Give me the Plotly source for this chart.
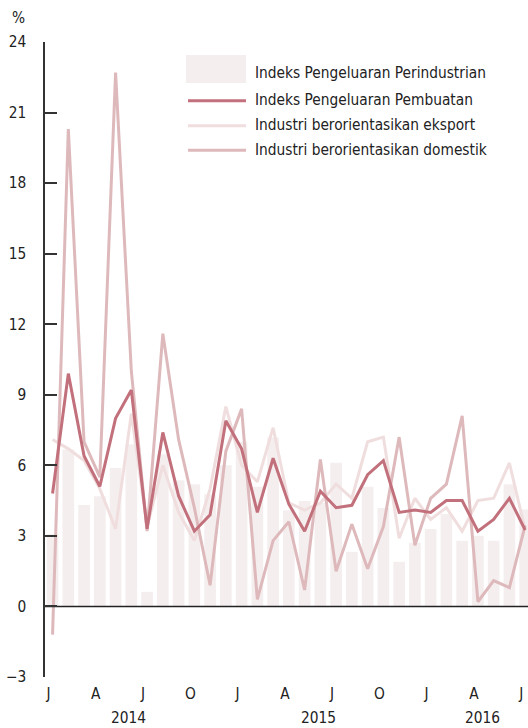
import plotly.graph_objects as go

# ---------------- data ----------------
months = [f"{y}-{m:02d}" for y in (2014, 2015, 2016) for m in range(1, 13)][:31]

perindustrian = [3.07, 6.67, 4.31, 4.69, 5.89, 6.90, 0.62, 6.47, 5.37, 5.20, 4.77, 6.00,
                 7.00, 5.09, 7.18, 4.09, 4.48, 4.40, 6.11, 2.32, 5.09, 4.19, 1.90, 2.71,
                 3.29, 3.93, 2.79, 3.00, 2.79, 5.20, 4.12]
pembuatan = [4.8, 9.9, 6.4, 5.1, 8.0, 9.2, 3.3, 7.4, 4.7, 3.2, 3.9, 7.9,
             6.7, 4.0, 6.3, 4.35, 3.2, 4.9, 4.2, 4.3, 5.6, 6.2, 4.0, 4.1,
             4.0, 4.5, 4.5, 3.2, 3.7, 4.6, 3.25]
eksport = [7.1, 6.7, 6.2, 5.0, 3.3, 8.2, 3.4, 6.0, 4.0, 2.8, 5.0, 8.5,
           6.0, 5.3, 7.6, 4.4, 4.1, 4.4, 5.2, 4.6, 7.0, 7.2, 2.9, 4.6,
           3.7, 4.2, 3.2, 4.5, 4.6, 6.1, 3.25]
domestik = [-1.2, 20.3, 7.0, 5.5, 22.7, 10.0, 3.2, 11.6, 7.1, 4.2, 0.9, 6.6,
            8.4, 0.3, 2.8, 3.6, 0.7, 6.25, 1.5, 3.5, 1.6, 3.4, 7.2, 2.6,
            4.6, 5.2, 8.1, 0.2, 1.1, 0.8, 3.45]

tick_months = ["2014-01", "2014-04", "2014-07", "2014-10", "2015-01", "2015-04",
               "2015-07", "2015-10", "2016-01", "2016-04", "2016-07"]
tick_text = ["J", "A", "J", "O", "J", "A", "J", "O", "J", "A", "J"]
years = ["2014", "2015", "2016"]
year_pos = [4.8, 16.9, 27.3]

names = ["Indeks Pengeluaran Perindustrian", "Indeks Pengeluaran Pembuatan",
         "Industri berorientasikan eksport", "Industri berorientasikan domestik"]

# ---------------- style ----------------
C_BAR = "#F5EEEF"
C_DARK = "#C2717C"
C_EXP = "#F0DEDF"
C_DOM = "#DEB9BC"
AXIS = "#333333"
TXT = "#222222"
FONT = "DejaVu Sans Condensed, sans-serif"
FS = 15.3

W, H = 528, 728
L, R, T, B = 45, 0, 42, 51

fig = go.Figure()
fig.add_trace(go.Bar(x=months, y=perindustrian, marker_color=C_BAR, marker_line_width=0,
                     width=0.74, name=names[0], showlegend=False))
fig.add_trace(go.Scatter(x=months, y=eksport, mode="lines", line=dict(color=C_EXP, width=3),
                         name=names[2], showlegend=False))
fig.add_trace(go.Scatter(x=months, y=domestik, mode="lines", line=dict(color=C_DOM, width=3),
                         name=names[3], showlegend=False))
fig.add_trace(go.Scatter(x=months, y=pembuatan, mode="lines", line=dict(color=C_DARK, width=3),
                         name=names[1], showlegend=False))
# zero baseline spanning the full plot width (on a hidden helper x-axis)
fig.add_trace(go.Scatter(x=[0, 1], y=[0, 0], xaxis="x2", yaxis="y", mode="lines",
                         line=dict(color=TXT, width=1.5), hoverinfo="skip",
                         showlegend=False, cliponaxis=False))

pw, ph = W - L - R, H - T - B


def px(xp):
    return (xp - L) / pw


def py(yp):
    return (H - B - yp) / ph


shapes = []
annotations = []
# custom legend
shapes.append(dict(type="rect", xref="paper", yref="paper", x0=px(186), x1=px(246),
                   y0=py(83), y1=py(55), fillcolor=C_BAR, line_width=0, layer="above"))
for yy, col in zip([100.7, 125.7, 150.3], [C_DARK, C_EXP, C_DOM]):
    shapes.append(dict(type="line", xref="paper", yref="paper", x0=px(188), x1=px(246),
                       y0=py(yy), y1=py(yy), line=dict(color=col, width=3)))
for yy, nm in zip([73, 100, 125, 149.5], names):
    annotations.append(dict(xref="paper", yref="paper", x=px(253), y=py(yy), text=nm,
                            showarrow=False, xanchor="left", yanchor="middle",
                            font=dict(size=FS, color=TXT, family=FONT)))
# unit label
annotations.append(dict(xref="paper", yref="paper", x=px(18.5), y=py(18), text="%",
                        showarrow=False, xanchor="center", yanchor="middle",
                        font=dict(size=FS, color=TXT, family=FONT)))
# year labels
for yr, pos in zip(years, year_pos):
    annotations.append(dict(xref="x", yref="paper", x=pos, y=0, yshift=-41, text=yr,
                            showarrow=False, xanchor="center", yanchor="middle",
                            font=dict(size=FS, color=TXT, family=FONT)))

fig.update_layout(
    width=W, height=H,
    margin=dict(l=L, r=R, t=T, b=B, pad=0, autoexpand=False),
    paper_bgcolor="white", plot_bgcolor="white",
    font=dict(family=FONT, size=FS, color=TXT),
    shapes=shapes, annotations=annotations,
    showlegend=False,
    xaxis=dict(type="category", categoryorder="array", categoryarray=months,
               range=[-0.48, 30.18], tickmode="array", tickvals=tick_months,
               ticktext=tick_text, ticks="", showline=False, showgrid=False,
               zeroline=False, ticklabelshift=-4, ticklabelstandoff=6, automargin=False,
               tickfont=dict(size=FS, family=FONT, color=TXT)),
    xaxis2=dict(overlaying="x", anchor="y", range=[0, 1], visible=False,
                showgrid=False, zeroline=False, automargin=False),
    yaxis=dict(range=[-3, 24], tickmode="array", tickvals=list(range(-3, 25, 3)),
               ticks="inside", ticklen=12, tickwidth=1.5, tickcolor=AXIS,
               showline=True, linecolor=AXIS, linewidth=1.5, showgrid=False,
               zeroline=False,
               ticklabelstandoff=14, automargin=False,
               tickfont=dict(size=FS, family=FONT, color=TXT)),
)

fig.write_html("out.html", config={"displayModeBar": False},
               post_script="document.body.style.margin='0';document.body.style.overflow='hidden';")
